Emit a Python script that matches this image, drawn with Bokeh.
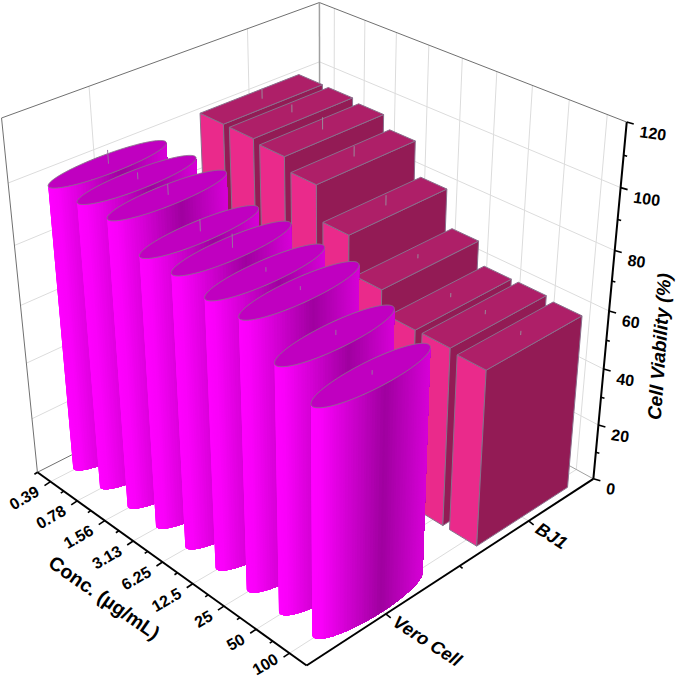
import numpy as np
from bokeh.plotting import figure
from bokeh.embed import file_html
from bokeh.resources import INLINE
from bokeh.core.properties import value
from bokeh.models import Range1d

conc_labels = ["0.39","0.78","1.56","3.13","6.25","12.5","25","50","100"]
cell_labels = ["Vero Cell","BJ1"]
z_ticks = [0,20,40,60,80,100,120]
vero = [97.9,97.8,97.9,91.6,91.8,89.9,89.9,82.0,76.0]
bj1 = [98.4,98.3,97.2,93.0,81.8,69.4,61.9,62.0,61.0]
vero_err = [2.2,1.1,1.7,1.9,2.2,0.7,0.6,0.8,0.7]
bj1_err = [1.7,1.3,2.0,1.7,1.7,0.7,0.7,0.7,0.7]

# camera calibration: cube position -> canvas position
cal = [
 ((0,0,0),(38,472)),((1,0,0),(306,664)),((1,1,0),(592,477)),((0,0,1),(2,117)),((1,1,1),(627,122)),((0,1,1),(318,2)),
 ((1,1,5/6),(620,188)),((1,1,4/6),(613,250)),((1,1,3/6),(610,312)),((1,1,2/6),(603,368)),((1,1,1/6),(598,425)),
 ((0,1,5/6),(318,61)),((0,.25,1),(89,85)),((0,.75,1),(247,28)),((1,.25,0),(388,613)),((1,.75,0),(530,520)),
 ((.5/9,0,0),(50,482)),((1.5/9,0,0),(77,500)),((2.5/9,0,0),(105,520)),((3.5/9,0,0),(133,540)),((4.5/9,0,0),(162,562)),
 ((5.5/9,0,0),(190,585)),((6.5/9,0,0),(222,607)),((7.5/9,0,0),(255,630)),((8.5/9,0,0),(287,650)),
]
A=[];b=[]
for (X,Y,Z),(u,v) in cal:
    A.append([X,Y,Z,1,0,0,0,0,-u*X,-u*Y,-u*Z]);b.append(u)
    A.append([0,0,0,0,X,Y,Z,1,-v*X,-v*Y,-v*Z]);b.append(v)
sol=np.linalg.lstsq(np.array(A,float),np.array(b,float),rcond=None)[0]
P=np.append(sol,1.0).reshape(3,4)

def proj(x,y,z):
    x=np.asarray(x,float)/9;y=np.asarray(y,float);z=np.asarray(z,float)/120
    w=P[2,0]*x+P[2,1]*y+P[2,2]*z+P[2,3]
    return (P[0,0]*x+P[0,1]*y+P[0,2]*z+P[0,3])/w,(P[1,0]*x+P[1,1]*y+P[1,2]*z+P[1,3])/w

W,H=685,680
p=figure(width=W,height=H,output_backend="svg",toolbar_location=None,x_range=Range1d(0,W),y_range=Range1d(H,0),
         min_border=0,outline_line_color=None,background_fill_color="white",border_fill_color="white")
p.axis.visible=False;p.grid.visible=False
F=value("Liberation Sans")

def seg(a,b,color,width):
    xa,ya=proj(*a);xb,yb=proj(*b)
    p.line([float(xa),float(xb)],[float(ya),float(yb)],line_color=color,line_width=width)

GRID="#dcdcdc"
for i in range(9):
    seg((i+.5,1,0),(i+.5,1,120),GRID,1)
    seg((i+.5,0,0),(i+.5,1,0),GRID,1)
for z in z_ticks[1:-1]:
    seg((0,1,z),(9,1,z),GRID,1)
    seg((0,0,z),(0,1,z),GRID,1)
for y in (.25,.75):
    seg((0,y,0),(0,y,120),GRID,1)
    seg((0,y,0),(9,y,0),GRID,1)
FR="#707070"
seg((0,0,120),(0,1,120),FR,1);seg((0,1,120),(9,1,120),FR,1);seg((0,0,0),(0,0,120),FR,1)
seg((0,1,0),(0,1,120),"#a0a0a0",1.5);seg((0,0,0),(0,1,0),FR,1);seg((0,1,0),(9,1,0),"#a0a0a0",1)

EDGE="#8a6f8c"
XH=.40;YH_B=.17;YH_V=.175;BSHIFT=-.1
for i,v in enumerate(bj1):
    c=i+.5+BSHIFT;x0,x1=c-XH,c+XH;y0,y1=.755-YH_B,.755+YH_B
    faces=[([x0,x1,x1,x0],[y0,y0,y0,y0],[0,0,v,v],"#ea2a8b"),
           ([x1,x1,x1,x1],[y0,y1,y1,y0],[0,0,v,v],"#931b55"),
           ([x0,x1,x1,x0],[y0,y0,y1,y1],[v,v,v,v],"#ae1f68")]
    for fx,fy,fz,col in faces:
        sx,sy=proj(fx,fy,fz)
        p.patch(sx.tolist(),sy.tolist(),fill_color=col,line_color=EDGE,line_width=1)
    a,bb=proj([c,c],[.755,.755],[v,v+2*bj1_err[i]])
    p.line(a.tolist(),bb.tolist(),line_color="#9a8a9a",line_width=1)

stops_f=[0,.08,.62,1];stops_c=[255,250,160,215]
T=np.linspace(0,2*np.pi,361)[:-1]
for i,v in enumerate(vero):
    c=i+.5
    ex=c+XH*np.cos(T);ey=.25+YH_V*np.sin(T)
    sx,sy=proj(ex,ey,np.full_like(ex,v))
    il,ir=int(np.argmin(sx)),int(np.argmax(sx))
    lo,hi=min(il,ir),max(il,ir)
    arc1=np.arange(lo,hi+1);arc2=np.r_[np.arange(hi,360),np.arange(0,lo+1)]
    arc=arc1 if sy[arc1].mean()>sy[arc2].mean() else arc2
    arc=arc[np.linspace(0,len(arc)-1,min(70,len(arc))).astype(int)]
    if sx[arc[0]]>sx[arc[-1]]: arc=arc[::-1]
    bx,by=proj(ex[arc],ey[arc],np.zeros(len(arc)))
    tx,ty=sx[arc],sy[arc]
    xs=[];ys=[];cols=[]
    for k in range(len(arc)-1):
        xs.append(np.r_[tx[k:],bx[k:][::-1]].tolist());ys.append(np.r_[ty[k:],by[k:][::-1]].tolist())
        f=((tx[k]+tx[k+1])/2-sx.min())/(sx.max()-sx.min())
        g=int(np.interp(f,stops_f,stops_c))
        cols.append("#%02x00%02x"%(g,g))
    p.patches(xs,ys,fill_color=cols,line_color=None)
    p.patch(sx.tolist(),sy.tolist(),fill_color="#c000c0",line_color=EDGE,line_width=1)
    a,bb=proj([c,c],[.25,.25],[v,v+2*vero_err[i]])
    p.line(a.tolist(),bb.tolist(),line_color="#9a70a0",line_width=1)

# axes
AX="#000000"
seg((0,0,0),(9,0,0),AX,2);seg((9,0,0),(9,1,0),AX,2);seg((9,1,0),(9,1,120),AX,2)
def tick(pt,dx,dy,w=1.6):
    x,y=proj(*pt)
    p.line([float(x),float(x)+dx],[float(y),float(y)+dy],line_color=AX,line_width=w)
for i in range(9):
    tick((i+.5,0,0),-6,4)
    tick((i,0,0),-3,2)
for y,s in ((.25,1),(.5,.6),(.75,1)):
    tick((9,y,0),5*s,4*s)
for z in range(0,130,10):
    s=1 if z%20==0 else .5
    tick((9,1,z),7*s,2*s)

for i,t in enumerate(conc_labels):
    x,y=proj(i+.5,0,0)
    off=8 if i<8 else 4
    p.text([float(x)-13],[float(y)+off],text=[t],text_font=F,text_font_style="bold",text_font_size="16px",
           text_color="black",text_align="right",text_baseline="middle",angle=np.radians(30))
for z,t in zip(z_ticks,z_ticks):
    x,y=proj(9,1,z)
    p.text([float(x)+13],[float(y)+9],text=[str(t)],text_font=F,text_font_style="bold",text_font_size="16px",
           text_color="black",text_align="left",text_baseline="middle",angle=np.radians(-8))
for y0,t in zip((.25,.75),cell_labels):
    x,y=proj(9,y0,0)
    p.text([float(x)+9],[float(y)+6],text=[t],text_font=F,text_font_style="bold italic",text_font_size="18px",
           text_color="black",text_align="left",text_baseline="middle",angle=np.radians(-33))

p.text([104],[597],text=["Conc. (µg/mL)"],text_font=F,text_font_style="bold",text_font_size="19.5px",text_color="black",
       text_align="center",text_baseline="middle",angle=np.radians(-35))
p.text([659],[346],text=["Cell Viability (%)"],text_font=F,text_font_style="bold italic",text_font_size="19px",text_color="black",
       text_align="center",text_baseline="middle",angle=np.radians(86))

open("out.html","w").write(file_html(p,INLINE))
